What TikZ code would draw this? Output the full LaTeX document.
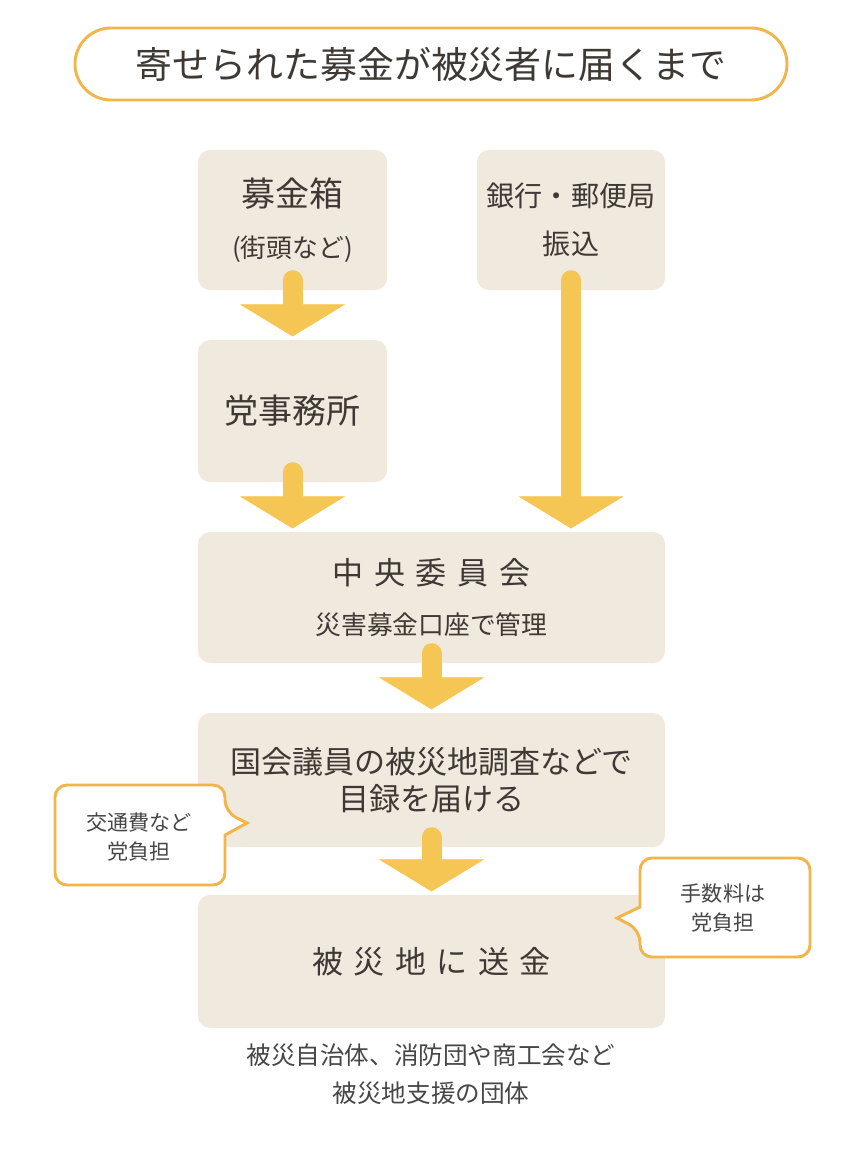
\documentclass[tikz,border=0pt]{standalone}
\usepackage{fontspec}
\setmainfont{Noto Sans CJK JP}
\usetikzlibrary{arrows.meta, positioning}

\definecolor{boxbeige}{RGB}{239,233,222}
\definecolor{arrowyellow}{RGB}{245,198,84}
\definecolor{lineorange}{RGB}{242,181,74}
\definecolor{textbrown}{RGB}{62,57,52}
\definecolor{textgray}{RGB}{70,70,70}
\newcommand{\sgap}{\hspace{9pt}}

\tikzset{
  stepbox/.style={fill=boxbeige, rounded corners=0.36cm, inner sep=0pt, align=center, text=textbrown},
  flow/.style={draw=arrowyellow, line width=0.6cm, line cap=round,
    -{Triangle[width=3.15cm,length=0.96cm,line width=0.5pt]}},
  callout/.style={draw=lineorange, line width=2.5pt, fill=white, rounded corners=0.36cm},
  note/.style={align=center, text=textgray, inner sep=0pt},
}

\begin{document}
\begin{tikzpicture}[x=0.03cm, y=-0.03cm]
    \useasboundingbox (0,0) rectangle (866,1157);
    % title
    \node[draw=lineorange, line width=2.5pt, rounded corners=1.08cm, minimum width=21.36cm,
        minimum height=2.16cm, inner sep=0pt, text=textbrown,
        font=\fontsize{31.5}{40}\selectfont] (title) at (431,64) {寄せられた募金が被災者に届くまで};

    % boxes
    \node[stepbox, minimum width=5.67cm, minimum height=4.2cm, font=\fontsize{29}{43}\selectfont]
        (box) at (292.5,220) {募金箱\\{\fontsize{22}{43}\selectfont (街頭など)}};
    \node[stepbox, minimum width=5.64cm, minimum height=4.2cm, font=\fontsize{24}{41}\selectfont]
        (bank) at (571,220) {銀行・郵便局\\振込};
    \node[stepbox, minimum width=5.67cm, minimum height=4.26cm, font=\fontsize{29}{35}\selectfont]
        (office) at (292.5,411) {党事務所};
    \node[stepbox, minimum width=14.01cm, minimum height=3.93cm, font=\fontsize{26.5}{42}\selectfont]
        (hq) at (431.5,597.5) {中\sgap 央\sgap 委\sgap 員\sgap 会\\{\fontsize{22}{42}\selectfont 災害募金口座で管理}};
    \node[stepbox, minimum width=14.01cm, minimum height=4.02cm, font=\fontsize{26.5}{32}\selectfont]
        (survey) at (431.5,780) {国会議員の被災地調査などで\\目録を届ける};
    \node[stepbox, minimum width=14.01cm, minimum height=3.99cm, font=\fontsize{26.5}{32}\selectfont]
        (send) at (431.5,961.5) {被\sgap 災\sgap 地\sgap に\sgap 送\sgap 金};

    % arrows
    \coordinate (hqtop) at ([yshift=0.1cm]hq.north);
    \draw[flow] ([yshift=0.3cm]box.south) -- ([yshift=0.1cm]office.north);
    \draw[flow] ([yshift=0.3cm]office.south) -- (office.south |- hqtop);
    \draw[flow] ([yshift=0.3cm]bank.south) -- (bank.south |- hqtop);
    \draw[flow] ([yshift=0.3cm]hq.south) -- ([yshift=0.1cm]survey.north);
    \draw[flow] ([yshift=0.3cm]survey.south) -- ([yshift=0.1cm]send.north);

    % callouts
    \draw[callout] (55,835) |- (225,785) -- (225,812) [sharp corners] -- (247,823) -- (225,835)
        [rounded corners=0.36cm] |- (55,885) -- cycle;
    \node[note, font=\fontsize{18}{25}\selectfont] (travel) at (139,837) {交通費など\\党負担};
    \draw[callout] (640,880) |- (810,858) |- (640,957) -- (640,930) [sharp corners] -- (617,918)
        -- (640,907) -- cycle;
    \node[note, font=\fontsize{18}{25}\selectfont] (fee) at (723,908) {手数料は\\党負担};

    % recipients
    \node[note, font=\fontsize{21}{32}\selectfont] (recip) at (431,1074) {被災自治体、消防団や商工会など\\被災地支援の団体};
\end{tikzpicture}
\end{document}
